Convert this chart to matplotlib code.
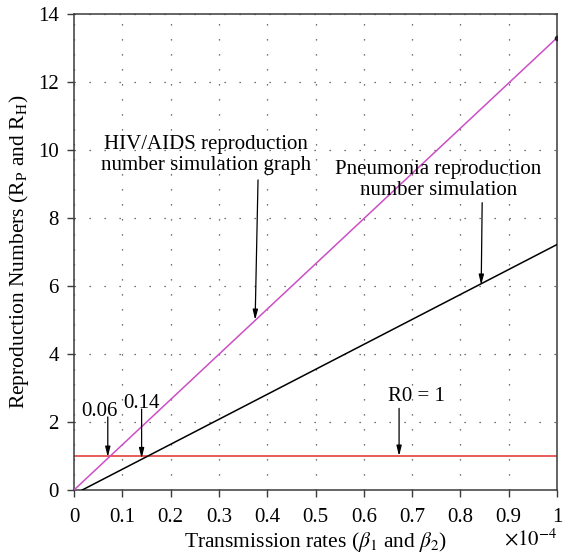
import numpy as np
import matplotlib
matplotlib.use("Agg")
import matplotlib.pyplot as plt

plt.rcParams['font.family'] = ['Liberation Serif', 'DejaVu Serif']
plt.rcParams['mathtext.fontset'] = 'stix'

# Transmission rate (units of 1e-4) and reproduction numbers
beta = [0.0, 1.0]
r_hiv = [0.0, 13.3]
beta_pn = [0.017, 1.0]
r_pn = [0.0, 7.22]
r0_level = 1.0

fig = plt.figure(figsize=(5.69, 5.59), dpi=100)
ax = fig.add_axes([0.130, 0.1234, 0.849, 0.8516])

frame_col = '#3a3a3a'
ax.plot(beta, r_hiv, color='#cc4fc4', lw=1.1, zorder=3)
ax.plot([beta[-1]], [r_hiv[-1]], 'o', color='#222222', ms=3, zorder=4)
ax.plot(beta_pn, r_pn, color='black', lw=1.1, zorder=3)
ax.axhline(r0_level, color='#e0302c', lw=1.1, zorder=2)

ax.set_xlim(0, 1)
ax.set_ylim(0, 14)
ax.set_xticks(np.arange(0, 1.01, 0.1))
ax.set_xticklabels(['0', '0.1', '0.2', '0.3', '0.4', '0.5', '0.6', '0.7', '0.8', '0.9', '1'])
ax.set_yticks(np.arange(0, 15, 2))
ax.tick_params(direction='out', length=5, width=1, color=frame_col, labelsize=15)
ax.tick_params(axis='x', pad=8)
ax.tick_params(axis='y', pad=6)
for s in ax.spines.values():
    s.set_color(frame_col)
    s.set_linewidth(1.1)

ax.grid(True, linestyle=(0, (1, 11)), color='#444444', lw=0.9)

ax.set_xlabel(r'Transmission rates ($\beta_1$ and $\beta_2$)', fontsize=15.5, labelpad=2)
ax.set_ylabel(r'Reproduction Numbers (R$_\mathrm{P}$ and R$_\mathrm{H}$)', fontsize=15.5, labelpad=5)
ax.text(0.945, -0.105, r'$\times10^{-4}$', transform=ax.transAxes, ha='center', va='center', fontsize=15)

arrow = dict(arrowstyle='-|>,head_length=0.6,head_width=0.15', color='black', lw=0.9, shrinkA=0, shrinkB=0)
fs = 15
ax.annotate('', xy=(0.070, 0.97), xytext=(0.070, 2.15), arrowprops=arrow)
ax.text(0.053, 2.32, '0.06', ha='center', va='center', fontsize=fs)
ax.annotate('', xy=(0.140, 0.93), xytext=(0.140, 2.38), arrowprops=arrow)
ax.text(0.139, 2.55, '0.14', ha='center', va='center', fontsize=fs)

ax.annotate('', xy=(0.375, 5.0), xytext=(0.381, 9.12), arrowprops=arrow)
ax.text(0.273, 9.85, 'HIV/AIDS reproduction\nnumber simulation graph', ha='center', va='center',
        fontsize=fs, linespacing=1.15)

ax.annotate('', xy=(0.843, 6.03), xytext=(0.845, 8.45), arrowprops=arrow)
ax.text(0.754, 9.12, 'Pneumonia reproduction\nnumber simulation', ha='center', va='center',
        fontsize=fs, linespacing=1.15)

ax.annotate('', xy=(0.673, 1.0), xytext=(0.673, 2.4), arrowprops=arrow)
ax.text(0.708, 2.76, 'R0 = 1', ha='center', va='center', fontsize=fs)

fig.savefig('out.png', dpi=100)
